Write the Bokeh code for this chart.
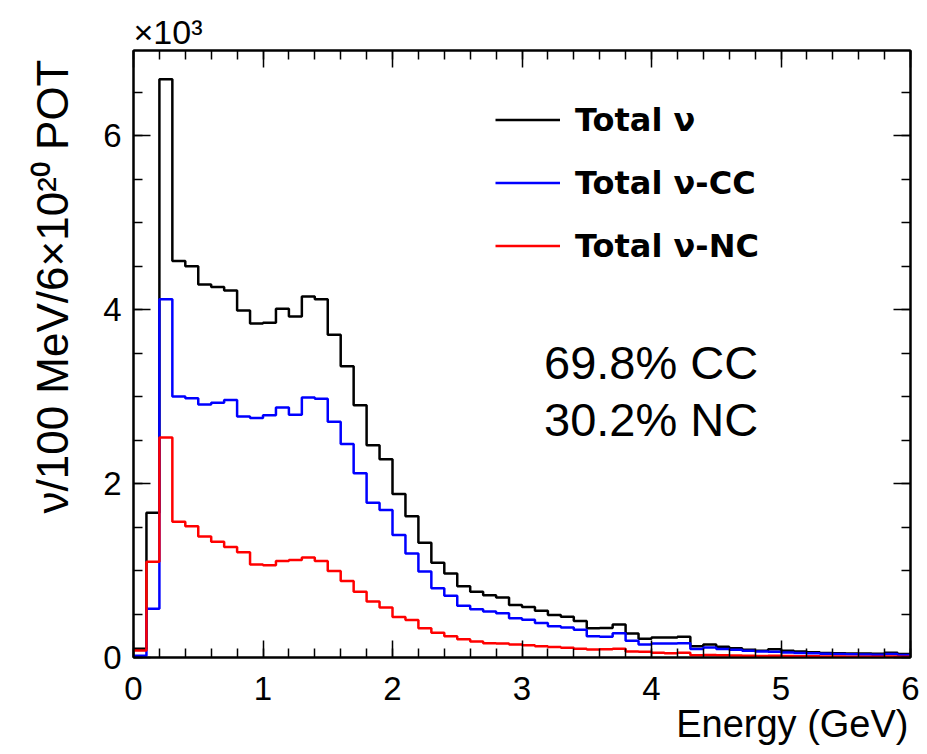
from bokeh.plotting import figure
from bokeh.models import (Range1d, LinearAxis, SingleIntervalTicker, Label, Legend, LegendItem,
                          CustomJSTickFormatter, Title)
from bokeh.embed import file_html
from bokeh.resources import INLINE

# ---- data: 60 bins of 100 MeV from 0 to 6 GeV (events / 100 MeV / 6e20 POT) ----
bin_width = 0.1
bin_low_edges = [round(i * bin_width, 1) for i in range(60)]

total_nu = [100, 1665, 6650, 4560, 4500, 4290, 4260, 4220, 3990, 3840,
            3850, 4010, 3920, 4150, 4120, 3710, 3350, 2900, 2440, 2280,
            1880, 1625, 1320, 1090, 965, 820, 755, 717, 690, 605,
            580, 537, 490, 470, 420, 335, 340, 380, 275, 215,
            230, 230, 240, 128, 150, 125, 105, 90, 78, 95,
            78, 68, 60, 52, 50, 45, 45, 42, 55, 40]

total_cc = [20, 560, 4120, 3000, 2980, 2910, 2930, 2960, 2770, 2755,
            2785, 2876, 2790, 2990, 2976, 2710, 2456, 2120, 1780, 1695,
            1410, 1195, 988, 797, 710, 594, 556, 530, 510, 450,
            434, 396, 358, 346, 320, 243, 240, 280, 192, 150,
            160, 160, 165, 97, 116, 97, 90, 78, 70, 65,
            58, 52, 48, 42, 40, 36, 35, 33, 40, 30]

total_nc = [80, 1100, 2530, 1560, 1510, 1390, 1330, 1270, 1210, 1070,
            1060, 1110, 1120, 1150, 1110, 995, 880, 755, 644, 575,
            465, 430, 335, 285, 245, 210, 185, 165, 160, 150,
            140, 130, 122, 112, 100, 93, 95, 102, 70, 66,
            56, 48, 55, 25, 30, 25, 22, 20, 18, 20,
            17, 15, 14, 12, 12, 10, 10, 10, 12, 9]

legend_labels = ["Total \u03bd", "Total \u03bd-CC", "Total \u03bd-NC"]
fractions_text = ["69.8% CC", "30.2% NC"]
y_tick_values = [0, 2000, 4000, 6000]
y_tick_labels = ["0", "2", "4", "6"]
x_title = "Energy (GeV)"
y_title = "\u03bd/100 MeV/6\u00d710\u00b2\u2070 POT"
y_multiplier = "\u00d710\u00b3"

FONT = "Liberation Sans"

p = figure(width=919, height=746, output_backend="svg", toolbar_location=None,
           x_range=Range1d(0, 6), y_range=Range1d(0, 6980),
           min_border_left=133, min_border_right=9, min_border_top=50, min_border_bottom=88)
p.background_fill_color = "white"
p.border_fill_color = "white"
p.grid.visible = False
p.outline_line_color = "black"
p.outline_line_width = 2

edges = bin_low_edges + [6.0]

def steps(vals):
    return vals + [vals[-1]]

r_tot = p.step(edges, steps(total_nu), mode="after", line_color="black", line_width=2.5)
r_cc = p.step(edges, steps(total_cc), mode="after", line_color="#0000ff", line_width=2.5)
r_nc = p.step(edges, steps(total_nc), mode="after", line_color="#ff0000", line_width=2.5)

def style_axis(ax, show_labels):
    ax.axis_line_width = 2
    ax.axis_line_color = "black"
    ax.major_tick_in = 17
    ax.major_tick_out = 0
    ax.minor_tick_in = 9
    ax.minor_tick_out = 0
    ax.major_tick_line_width = 1.5
    ax.minor_tick_line_width = 1.5
    ax.major_tick_line_color = "black"
    ax.minor_tick_line_color = "black"
    if show_labels:
        ax.major_label_text_font = FONT
        ax.major_label_text_font_size = "33px"
        ax.major_label_text_color = "black"
    else:
        ax.formatter = CustomJSTickFormatter(code="return ''")
        ax.major_label_text_font_size = "0px"
        ax.major_label_standoff = 0

p.xaxis.ticker = SingleIntervalTicker(interval=1, num_minor_ticks=5)
p.yaxis.ticker = SingleIntervalTicker(interval=2000, num_minor_ticks=4)
style_axis(p.xaxis[0], True)
style_axis(p.yaxis[0], True)
p.xaxis.major_label_standoff = 19
p.yaxis.major_label_standoff = 12
p.yaxis.major_label_overrides = {v: t for v, t in zip(y_tick_values, y_tick_labels)}

top_ax = LinearAxis(ticker=SingleIntervalTicker(interval=1, num_minor_ticks=5))
right_ax = LinearAxis(ticker=SingleIntervalTicker(interval=2000, num_minor_ticks=4))
style_axis(top_ax, False)
style_axis(right_ax, False)
p.add_layout(top_ax, "above")
p.add_layout(right_ax, "right")

# axis titles, ROOT style: aligned to the far end of each axis
p.add_layout(Title(text=x_title, align="right", vertical_align="top", text_font=FONT,
                   text_font_size="38px", text_font_style="normal", text_color="black",
                   standoff=0, offset=2), "below")
p.add_layout(Title(text=y_title, align="right", vertical_align="bottom", text_font=FONT,
                   text_font_size="44px", text_font_style="normal", text_color="black",
                   standoff=47, offset=9), "left")

# exponent of the y axis
p.add_layout(Title(text=y_multiplier, align="left", text_font=FONT, text_font_size="34px",
                   text_font_style="normal", text_color="black", standoff=0, offset=0), "above")

# fraction annotations
p.add_layout(Label(x=3.17, y=3395, text=fractions_text[0], text_align="left",
                   text_baseline="middle", text_font=FONT, text_font_size="47px",
                   text_color="black"))
p.add_layout(Label(x=3.17, y=2742, text=fractions_text[1], text_align="left",
                   text_baseline="middle", text_font=FONT, text_font_size="47px",
                   text_color="black"))

legend = Legend(items=[LegendItem(label=legend_labels[0], renderers=[r_tot]),
                       LegendItem(label=legend_labels[1], renderers=[r_cc]),
                       LegendItem(label=legend_labels[2], renderers=[r_nc])],
                location=(362, 380), glyph_width=65, glyph_height=63, spacing=0,
                padding=0, margin=0, border_line_color=None, background_fill_alpha=0,
                label_text_font="DejaVu Sans", label_text_font_style="bold",
                label_text_font_size="32px", label_text_color="black", label_standoff=15)
p.add_layout(legend)

open("out.html", "w").write(file_html(p, INLINE))
